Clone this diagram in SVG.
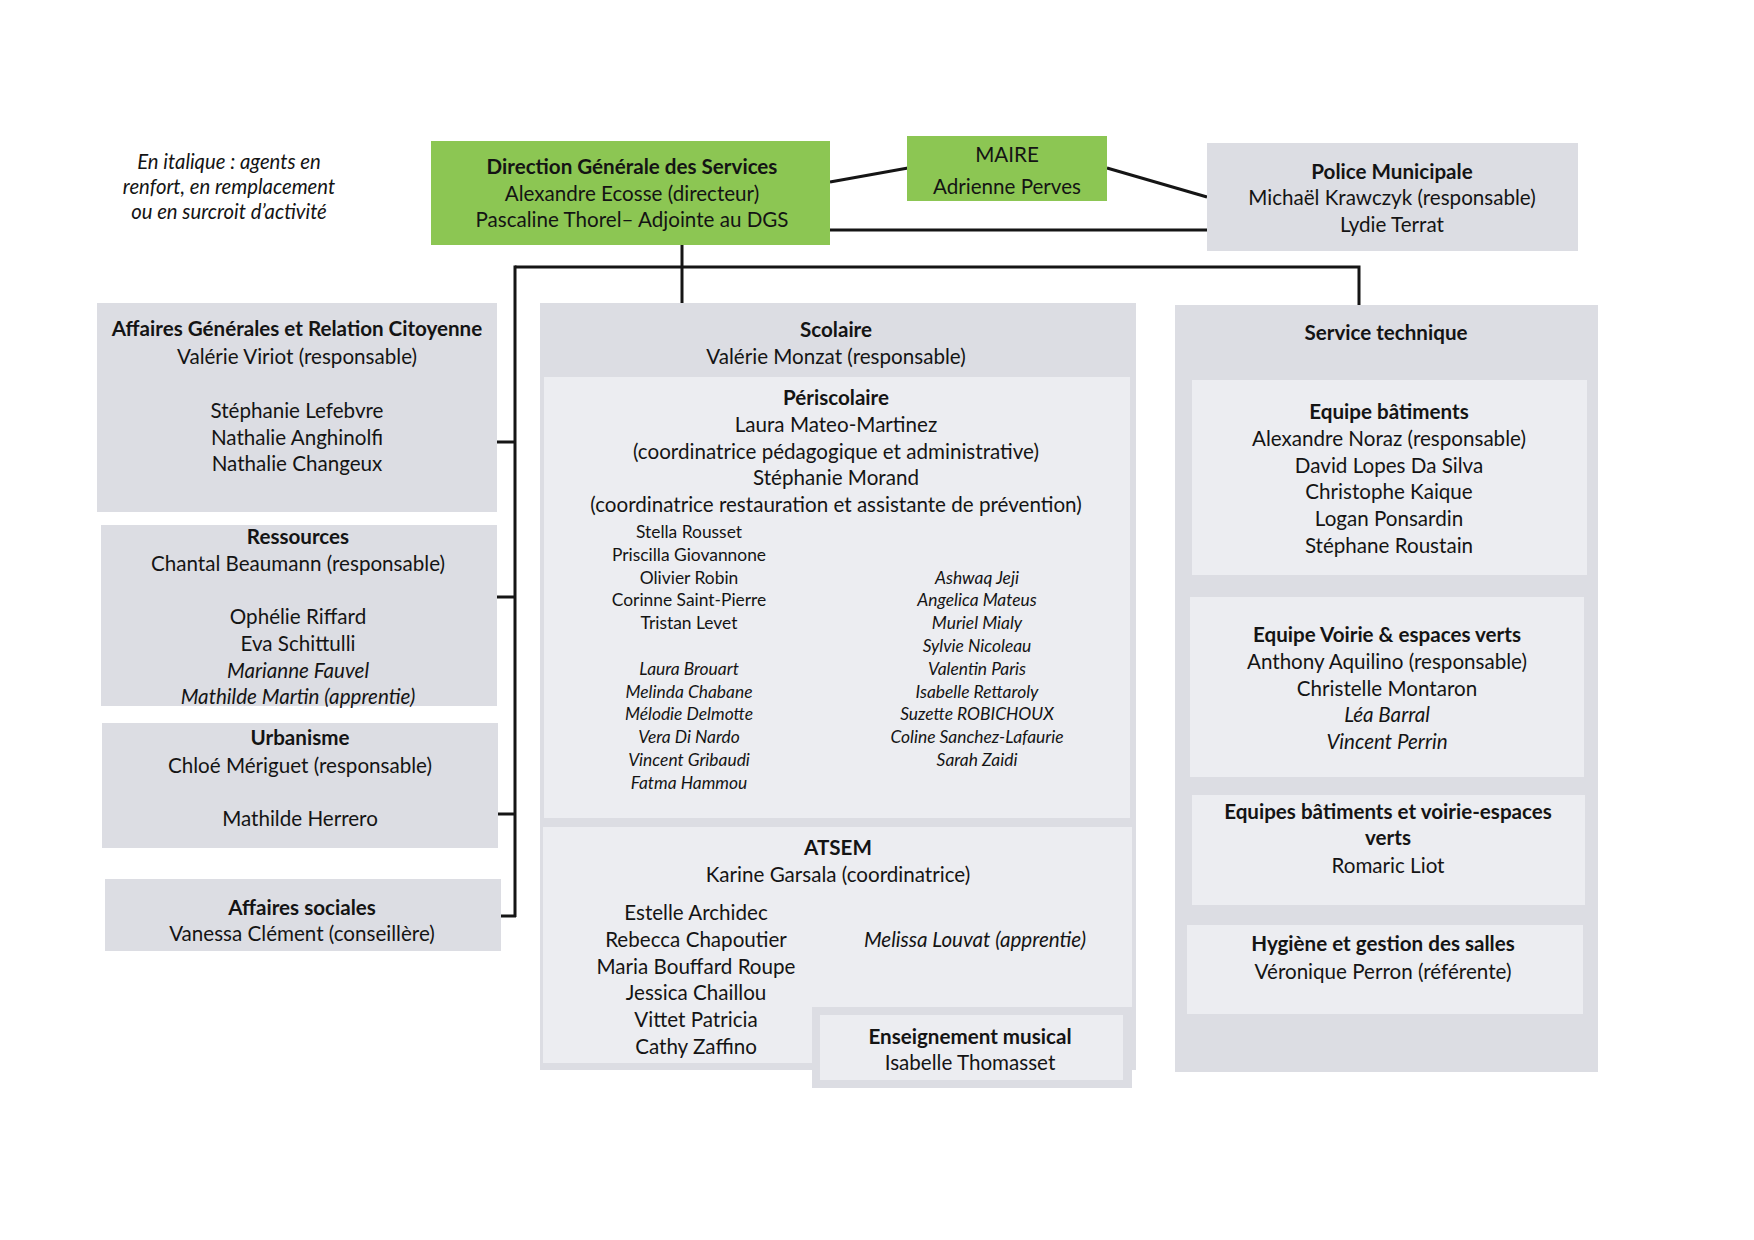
<svg xmlns="http://www.w3.org/2000/svg" width="1754" height="1240" viewBox="0 0 1754 1240">
<style>
.bg{fill:#ffffff}
.box{fill:#dcdde3}
.inner{fill:#ecedf1}
.green{fill:#8cc653}
text{font-family:Lato,"Open Sans","Liberation Sans",sans-serif;font-size:20.6px;fill:#141414;text-anchor:middle}
.b{font-weight:bold}
.i{font-style:italic}
.s{font-size:17.4px}
.lg{font-size:20.3px}
.conn{stroke:#151515;stroke-width:3;fill:none}
</style>
<rect class="bg" x="0" y="0" width="1754" height="1240"/>

<g id="legend">
<text class="i lg" x="229" y="169">En italique : agents en</text>
<text class="i lg" x="229" y="194">renfort, en remplacement</text>
<text class="i lg" x="229" y="219">ou en surcroit d’activité</text>
</g>

<g id="connectors">
<path class="conn" d="M830,182 L908,168"/>
<path class="conn" d="M1107,168 L1207,197"/>
<path class="conn" d="M830,230 H1207"/>
<path class="conn" d="M682,245 V304"/>
<path class="conn" d="M515,267 H1359 V305"/>
<path class="conn" d="M515,265.5 V917"/>
<path class="conn" d="M495,442 H515"/>
<path class="conn" d="M495,597 H515"/>
<path class="conn" d="M494,814 H515"/>
<path class="conn" d="M501,916 H516"/>
</g>

<g id="dgs">
<rect class="green" x="431" y="141" width="399" height="104"/>
<text class="b" x="632" y="174">Direction Générale des Services</text>
<text x="632" y="201">Alexandre Ecosse (directeur)</text>
<text x="632" y="227">Pascaline Thorel– Adjointe au DGS</text>
</g>

<g id="maire">
<rect class="green" x="907" y="136" width="200" height="65"/>
<text x="1007" y="162">MAIRE</text>
<text x="1007" y="194">Adrienne Perves</text>
</g>

<g id="police">
<rect class="box" x="1207" y="143" width="371" height="108"/>
<text class="b" x="1392" y="179">Police Municipale</text>
<text x="1392" y="205">Michaël Krawczyk (responsable)</text>
<text x="1392" y="232">Lydie Terrat</text>
</g>

<g id="affaires-generales">
<rect class="box" x="97" y="303" width="400" height="209"/>
<text class="b" x="297" y="336">Affaires Générales et Relation Citoyenne</text>
<text x="297" y="364">Valérie Viriot (responsable)</text>
<text x="297" y="418">Stéphanie Lefebvre</text>
<text x="297" y="445">Nathalie Anghinolfi</text>
<text x="297" y="471">Nathalie Changeux</text>
</g>

<g id="ressources">
<rect class="box" x="101" y="525" width="396" height="181"/>
<text class="b" x="298" y="544">Ressources</text>
<text x="298" y="571">Chantal Beaumann (responsable)</text>
<text x="298" y="624">Ophélie Riffard</text>
<text x="298" y="651">Eva Schittulli</text>
<text class="i" x="298" y="678">Marianne Fauvel</text>
<text class="i" x="298" y="704">Mathilde Martin (apprentie)</text>
</g>

<g id="urbanisme">
<rect class="box" x="102" y="723" width="396" height="125"/>
<text class="b" x="300" y="745">Urbanisme</text>
<text x="300" y="773">Chloé Mériguet (responsable)</text>
<text x="300" y="826">Mathilde Herrero</text>
</g>

<g id="affaires-sociales">
<rect class="box" x="105" y="879" width="396" height="72"/>
<text class="b" x="302" y="915">Affaires sociales</text>
<text x="302" y="941">Vanessa  Clément (conseillère)</text>
</g>

<g id="scolaire">
<rect class="box" x="540" y="303" width="596" height="767"/>
<text class="b" x="836" y="337">Scolaire</text>
<text x="836" y="364">Valérie Monzat (responsable)</text>
</g>

<g id="periscolaire">
<rect class="inner" x="544" y="377" width="586" height="441"/>
<text class="b" x="836" y="405">Périscolaire</text>
<text x="836" y="432">Laura Mateo-Martinez</text>
<text x="836" y="459">(coordinatrice pédagogique et administrative)</text>
<text x="836" y="485">Stéphanie Morand</text>
<text x="836" y="512">(coordinatrice restauration et assistante de prévention)</text>
<text class="s" x="689" y="538">Stella Rousset</text>
<text class="s" x="689" y="561">Priscilla Giovannone</text>
<text class="s" x="689" y="584">Olivier Robin</text>
<text class="s" x="689" y="606">Corinne Saint-Pierre</text>
<text class="s" x="689" y="629">Tristan Levet</text>
<text class="s i" x="689" y="675">Laura Brouart</text>
<text class="s i" x="689" y="698">Melinda Chabane</text>
<text class="s i" x="689" y="720">Mélodie Delmotte</text>
<text class="s i" x="689" y="743">Vera Di Nardo</text>
<text class="s i" x="689" y="766">Vincent Gribaudi</text>
<text class="s i" x="689" y="789">Fatma Hammou</text>
<text class="s i" x="977" y="584">Ashwaq Jeji</text>
<text class="s i" x="977" y="606">Angelica Mateus</text>
<text class="s i" x="977" y="629">Muriel Mialy</text>
<text class="s i" x="977" y="652">Sylvie Nicoleau</text>
<text class="s i" x="977" y="675">Valentin Paris</text>
<text class="s i" x="977" y="698">Isabelle Rettaroly</text>
<text class="s i" x="977" y="720">Suzette ROBICHOUX</text>
<text class="s i" x="977" y="743">Coline Sanchez-Lafaurie</text>
<text class="s i" x="977" y="766">Sarah Zaidi</text>
</g>

<g id="atsem">
<rect class="inner" x="543" y="827" width="589" height="236"/>
<text class="b" x="838" y="855">ATSEM</text>
<text x="838" y="882">Karine Garsala (coordinatrice)</text>
<text x="696" y="920">Estelle Archidec</text>
<text x="696" y="947">Rebecca  Chapoutier</text>
<text x="696" y="974">Maria Bouffard Roupe</text>
<text x="696" y="1000">Jessica Chaillou</text>
<text x="696" y="1027">Vittet Patricia</text>
<text x="696" y="1054">Cathy Zaffino</text>
<text class="i" x="975" y="947">Melissa Louvat (apprentie)</text>
</g>

<g id="enseignement-musical">
<rect class="box" x="812" y="1007" width="320" height="81"/>
<rect class="inner" x="820" y="1015" width="303" height="65"/>
<text class="b" x="970" y="1044">Enseignement musical</text>
<text x="970" y="1070">Isabelle Thomasset</text>
</g>

<g id="service-technique">
<rect class="box" x="1175" y="305" width="423" height="767"/>
<text class="b" x="1386" y="340">Service technique</text>
</g>

<g id="equipe-batiments">
<rect class="inner" x="1192" y="380" width="395" height="195"/>
<text class="b" x="1389" y="419">Equipe bâtiments</text>
<text x="1389" y="446">Alexandre Noraz (responsable)</text>
<text x="1389" y="473">David Lopes Da Silva</text>
<text x="1389" y="499">Christophe Kaique</text>
<text x="1389" y="526">Logan Ponsardin</text>
<text x="1389" y="553">Stéphane Roustain</text>
</g>

<g id="equipe-voirie">
<rect class="inner" x="1190" y="597" width="394" height="180"/>
<text class="b" x="1387" y="642">Equipe Voirie &amp; espaces verts</text>
<text x="1387" y="669">Anthony Aquilino (responsable)</text>
<text x="1387" y="696">Christelle Montaron</text>
<text class="i" x="1387" y="722">Léa Barral</text>
<text class="i" x="1387" y="749">Vincent Perrin</text>
</g>

<g id="equipes-batiments-voirie">
<rect class="inner" x="1192" y="795" width="393" height="110"/>
<text class="b" x="1388" y="819">Equipes bâtiments et voirie-espaces</text>
<text class="b" x="1388" y="845">verts</text>
<text x="1388" y="873">Romaric Liot</text>
</g>

<g id="hygiene">
<rect class="inner" x="1187" y="925" width="396" height="89"/>
<text class="b" x="1383" y="951">Hygiène et gestion des salles</text>
<text x="1383" y="979">Véronique  Perron (référente)</text>
</g>
</svg>
